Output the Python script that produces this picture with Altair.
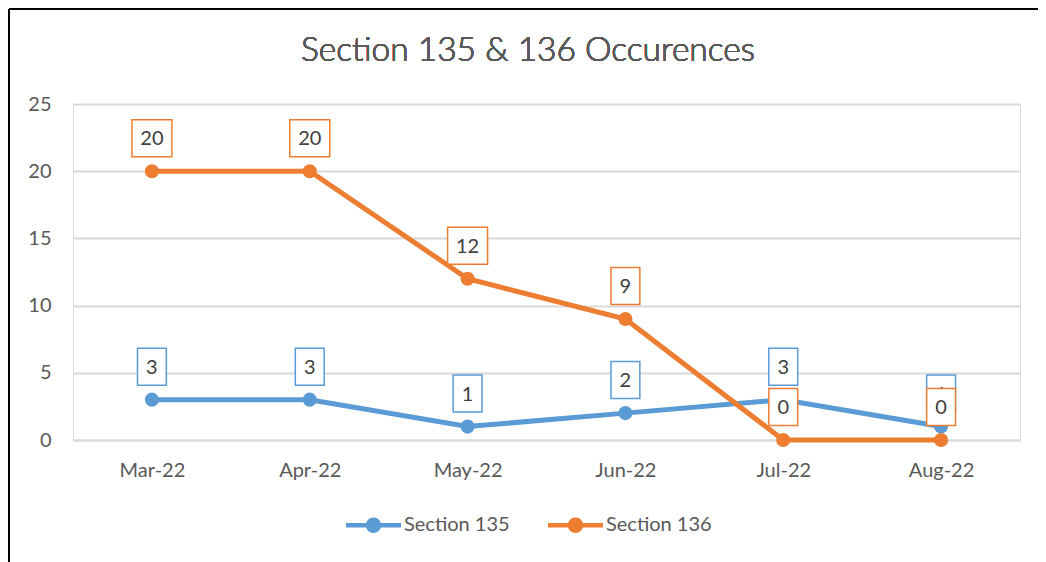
import altair as alt
import pandas as pd

months = ["Mar-22", "Apr-22", "May-22", "Jun-22", "Jul-22", "Aug-22"]
series_names = ["Section 135", "Section 136"]
s135 = [3, 3, 1, 2, 3, 1]
s136 = [20, 20, 12, 9, 0, 0]
colors = ["#5B9BD5", "#ED7D31"]
title_text = "Section 135 & 136 Occurences"

rows = []
for name, vals in zip(series_names, [s135, s136]):
    for m, v in zip(months, vals):
        rows.append({"month": m, "series": name, "value": v,
                     "label": str(v), "digits": str(len(str(v)))})
df = pd.DataFrame(rows)

FONT = "Lato"
TXT = "#595959"
FS = 20

x = alt.X("month:N", sort=months, title=None,
          scale=alt.Scale(type="point", padding=0.5),
          axis=alt.Axis(labelFontSize=FS, labelColor=TXT, labelFont=FONT,
                        labelAngle=0, ticks=False, domain=True,
                        domainColor="#d9d9d9", domainWidth=2, labelPadding=20))
y = alt.Y("value:Q", title=None,
          scale=alt.Scale(domain=[0, 25], nice=False),
          axis=alt.Axis(values=[0, 5, 10, 15, 20, 25], labelFontSize=FS,
                        labelColor=TXT, labelFont=FONT, ticks=False, domain=False,
                        grid=True, gridColor="#d9d9d9", gridWidth=2, labelPadding=22))
color_scale = alt.Scale(domain=series_names, range=colors)

base = alt.Chart(df)

legend_shape = ("M-1,-0.085 L1,-0.085 L1,0.085 L-1,0.085 Z "
                "M-0.28,0 A0.28,0.28 0 1,1 0.28,0 A0.28,0.28 0 1,1 -0.28,0 Z")
legend = alt.Legend(title=None, orient="none", direction="horizontal",
                    legendX=273, legendY=393.5,
                    symbolType=legend_shape, symbolSize=3025,
                    symbolStrokeWidth=0, symbolOpacity=1,
                    labelFontSize=FS, labelColor=TXT, labelFont=FONT,
                    labelOffset=3, columnPadding=38, padding=0)

lines = base.mark_line(strokeWidth=5).encode(
    x=x, y=y, color=alt.Color("series:N", scale=color_scale, sort=series_names,
                              legend=legend))

points = base.mark_circle(size=200, opacity=1).encode(
    x=x, y=y,
    color=alt.Color("series:N", scale=color_scale, sort=series_names, legend=legend))

box_small = "M-0.78,-1 L0.78,-1 L0.78,1 L-0.78,1 Z"
box_big = "M-1.08,-1 L1.08,-1 L1.08,1 L-1.08,1 Z"

label_layers = []
for name, col in zip(series_names, colors):
    sub = base.transform_filter(alt.datum.series == name)
    boxes = sub.mark_point(filled=True, fill="white", stroke=col, strokeWidth=1.5,
                           opacity=1, yOffset=-33, size=1369).encode(
        x=x, y=y,
        shape=alt.Shape("digits:N", scale=alt.Scale(domain=["1", "2"],
                                                    range=[box_small, box_big]),
                        legend=None))
    texts = sub.mark_text(yOffset=-32, fontSize=FS, color="#404040", font=FONT,
                          baseline="middle", align="center").encode(
        x=x, y=y, text="label:N")
    label_layers += [boxes, texts]

title = base.mark_text(text=title_text, fontSize=33.5, color=TXT, font=FONT,
                       fontWeight=300, align="center", baseline="alphabetic").encode(
    x=alt.value(455), y=alt.value(-43))

border_left = base.mark_rule(color="black", strokeWidth=2).encode(
    x=alt.value(-64), y=alt.value(-95), y2=alt.value(700))
border_top = base.mark_rule(color="black", strokeWidth=2).encode(
    x=alt.value(-64), x2=alt.value(1100), y=alt.value(-95))

chart = alt.layer(lines, points, *label_layers, title, border_left, border_top).properties(
    width=947, height=336,
    autosize=alt.AutoSizeParams(type="none"),
    padding={"left": 65, "top": 96, "right": 18, "bottom": 122},
).configure_view(stroke=None).configure(background="white")

chart.save("out.html", embed_options={"renderer": "svg", "actions": False})
